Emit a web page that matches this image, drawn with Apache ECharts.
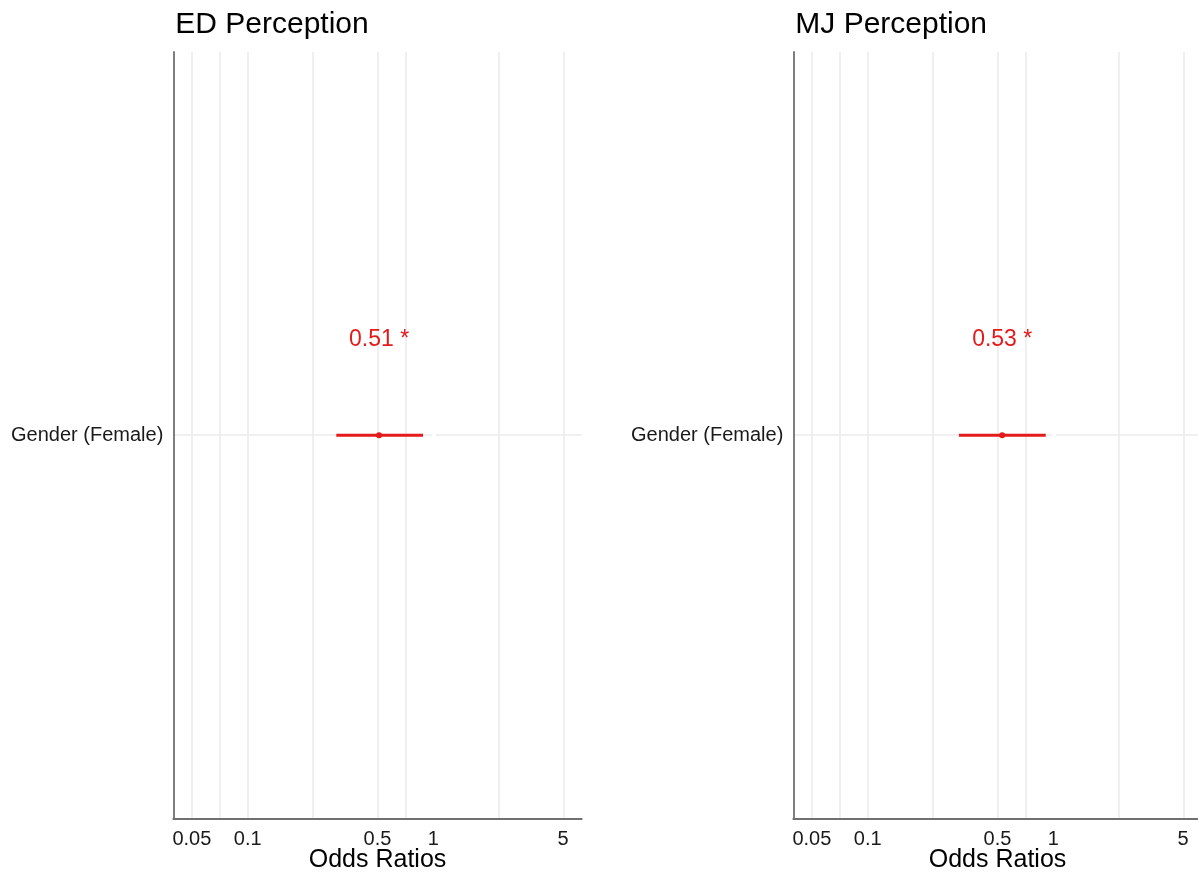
<!DOCTYPE html>
<html>
<head>
<meta charset="utf-8">
<script src="https://cdn.jsdelivr.net/npm/echarts@6/dist/echarts.min.js"></script>
<style>
html,body{margin:0;padding:0;background:#fff;}
#chart{width:1198px;height:879px;}
</style>
</head>
<body>
<div id="chart"></div>
<script>
// ---- data ----
const panelTitles = ['ED Perception', 'MJ Perception'];
const categories = ['Gender (Female)'];
const estimates = [0.51, 0.53];
const ciLow = [0.30, 0.31];
const ciHigh = [0.88, 0.91];
const valueLabels = ['0.51 *', '0.53 *'];
const tickValues = [0.05, 0.1, 0.5, 1, 5];
const axisMin = 0.0397;
const axisMax = 6.30;
const axisTitle = 'Odds Ratios';

// ---- build ----
const FONT = '"Liberation Sans", Arial, sans-serif';
const RED = '#e41a1c';
const GRID_COLOR = '#ebebeb';
const lg = v => Math.log10(v);
const majorLog = tickValues.map(lg);
const minorLog = [];
for (let i = 0; i < majorLog.length - 1; i++) minorLog.push((majorLog[i] + majorLog[i + 1]) / 2);

const gridLefts = [173.3, 793.3];
const grids = [], xAxes = [], yAxes = [], series = [], titles = [];

panelTitles.forEach((t, p) => {
  grids.push({left: gridLefts[p], top: 52, width: 408.4, height: 766.3,
    containLabel: false, outerBoundsMode: 'none'});
  titles.push({text: t, left: gridLefts[p] - 3, top: 5,
    textStyle: {fontFamily: FONT, fontSize: 30, fontWeight: 'normal', color: '#000'}});
  xAxes.push({
    type: 'value', gridIndex: p, min: lg(axisMin), max: lg(axisMax),
    name: axisTitle, nameLocation: 'middle', nameGap: 42, nameMoveOverlap: false,
    nameTextStyle: {fontFamily: FONT, fontSize: 25, color: '#000', verticalAlign: 'middle'},
    axisLine: {show: true, onZero: false, lineStyle: {color: '#707070', width: 1.8}},
    axisTick: {show: false},
    splitLine: {show: false},
    axisLabel: {
      customValues: majorLog, margin: 11,
      fontFamily: FONT, fontSize: 20, color: '#1a1a1a',
      formatter: v => String(Number(Math.pow(10, v).toPrecision(2)))
    }
  });
  yAxes.push({
    type: 'category', gridIndex: p, data: categories,
    axisLine: {show: true, onZero: false, lineStyle: {color: '#707070', width: 1.8}},
    axisTick: {show: false},
    splitLine: {show: false},
    axisLabel: {margin: 10, fontFamily: FONT, fontSize: 20, color: '#1a1a1a'}
  });
  // grid lines (major except 1, minor, horizontal, white reference at 1)
  const mlData = [];
  majorLog.forEach((v, i) => { if (tickValues[i] !== 1) mlData.push({xAxis: v, lineStyle: {color: GRID_COLOR, width: 1.6, type: 'solid'}}); });
  minorLog.forEach(v => mlData.push({xAxis: v, lineStyle: {color: GRID_COLOR, width: 1.6, type: 'solid'}}));
  mlData.push({yAxis: categories[0], lineStyle: {color: GRID_COLOR, width: 1.6, type: 'solid'}});
  mlData.push({xAxis: 0, lineStyle: {color: '#ffffff', width: 4, type: 'solid'}});
  series.push({
    type: 'scatter', xAxisIndex: p, yAxisIndex: p, data: [], z: 0, zlevel: 0, silent: true,
    markLine: {silent: true, z: 0, symbol: ['none', 'none'], label: {show: false}, animation: false, data: mlData}
  });
  // confidence interval
  series.push({
    type: 'custom', xAxisIndex: p, yAxisIndex: p, z: 10, silent: true,
    data: [[lg(ciLow[p]), lg(ciHigh[p]), 0]],
    renderItem: (params, api) => {
      const a = api.coord([api.value(0), api.value(2)]);
      const b = api.coord([api.value(1), api.value(2)]);
      return {type: 'line', shape: {x1: a[0], y1: a[1], x2: b[0], y2: b[1]},
        style: {stroke: RED, lineWidth: 3}};
    }
  });
  // point estimate with label
  series.push({
    type: 'scatter', xAxisIndex: p, yAxisIndex: p, z: 11, silent: true,
    symbol: 'circle', symbolSize: 6, itemStyle: {color: RED, opacity: 1},
    data: [[lg(estimates[p]), categories[0]]],
    label: {show: true, position: 'inside', offset: [0, -95], formatter: () => valueLabels[p],
      fontFamily: FONT, fontSize: 23, color: RED}
  });
});

const chart = echarts.init(document.getElementById('chart'), null, {renderer: 'canvas'});
chart.setOption({
  animation: false,
  backgroundColor: '#ffffff',
  title: titles, grid: grids, xAxis: xAxes, yAxis: yAxes, series: series
});
</script>
</body>
</html>
